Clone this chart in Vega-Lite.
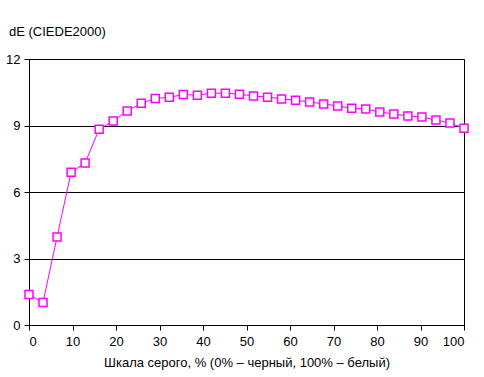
{
  "$schema": "https://vega.github.io/schema/vega-lite/v6.json",
  "width": 435,
  "height": 266,
  "autosize": "none",
  "padding": {"left": 29, "top": 59, "right": 20, "bottom": 52},
  "background": "white",
  "title": {"text": "dE (CIEDE2000)", "anchor": "start", "frame": "group", "dx": -20, "offset": 14, "font": "Liberation Sans", "fontSize": 13, "fontWeight": "normal", "color": "#000000"},
  "config": {
    "view": {"stroke": "#000000", "strokeWidth": 1},
    "axis": {"labelFont": "Liberation Sans", "titleFont": "Liberation Sans", "labelFontSize": 13, "titleFontSize": 13, "titleFontWeight": "normal", "labelColor": "#000000", "titleColor": "#000000", "domainColor": "#000000", "tickColor": "#000000", "tickSize": 5, "gridColor": "#000000", "gridOpacity": 1}
  },
  "data": {"values": [
    {"x": 0, "y": 1.38}, {"x": 3.226, "y": 1.02}, {"x": 6.452, "y": 3.97}, {"x": 9.677, "y": 6.89},
    {"x": 12.903, "y": 7.31}, {"x": 16.129, "y": 8.83}, {"x": 19.355, "y": 9.2}, {"x": 22.581, "y": 9.65},
    {"x": 25.806, "y": 10.0}, {"x": 29.032, "y": 10.22}, {"x": 32.258, "y": 10.27}, {"x": 35.484, "y": 10.4},
    {"x": 38.71, "y": 10.36}, {"x": 41.935, "y": 10.46}, {"x": 45.161, "y": 10.46}, {"x": 48.387, "y": 10.41},
    {"x": 51.613, "y": 10.33}, {"x": 54.839, "y": 10.28}, {"x": 58.065, "y": 10.2}, {"x": 61.29, "y": 10.14},
    {"x": 64.516, "y": 10.06}, {"x": 67.742, "y": 9.97}, {"x": 70.968, "y": 9.88}, {"x": 74.194, "y": 9.78},
    {"x": 77.419, "y": 9.74}, {"x": 80.645, "y": 9.61}, {"x": 83.871, "y": 9.52}, {"x": 87.097, "y": 9.43},
    {"x": 90.323, "y": 9.38}, {"x": 93.548, "y": 9.25}, {"x": 96.774, "y": 9.11}, {"x": 100, "y": 8.88}
  ]},
  "encoding": {
    "x": {"field": "x", "type": "quantitative", "scale": {"domain": [0, 100], "nice": false},
      "axis": {"values": [0,10,20,30,40,50,60,70,80,90,100], "grid": false, "title": "Шкала серого, % (0% – черный, 100% – белый)", "titlePadding": 8, "labelPadding": 5}},
    "y": {"field": "y", "type": "quantitative", "scale": {"domain": [0, 12], "nice": false},
      "axis": {"values": [0,3,6,9,12], "grid": true, "title": null, "labelPadding": 4}}
  },
  "layer": [
    {"mark": {"type": "line", "color": "#FF00FF", "strokeWidth": 1}},
    {"mark": {"type": "point", "shape": "square", "size": 64, "filled": true, "fill": "#FFFFFF", "stroke": "#FF00FF", "strokeWidth": 1.5, "opacity": 1}}
  ]
}
